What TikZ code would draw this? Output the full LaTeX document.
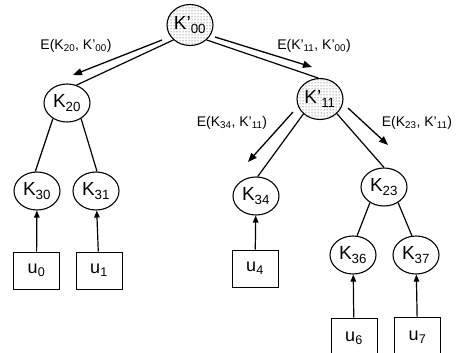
\documentclass[tikz,border=0pt]{standalone}
\usepackage{fontspec}
\setmainfont{Liberation Sans}
\usetikzlibrary{arrows.meta,patterns,shapes.geometric}

\begin{document}
\begin{tikzpicture}[x=1pt,y=-1pt,
  key/.style={ellipse, draw, line width=1.1pt, minimum width=46pt, minimum height=38pt,
    inner sep=0pt, font=\fontsize{19}{20}\selectfont},
  rekey/.style={key, minimum height=41pt, pattern=dots, pattern color=black!80},
  user/.style={rectangle, draw, line width=1pt, minimum width=46pt, minimum height=37pt,
    inner sep=0pt, font=\fontsize{18}{20}\selectfont},
  tree/.style={line width=1.2pt},
  enc/.style={line width=1.3pt, -{Triangle[length=9pt,width=7pt]}},
  upd/.style={line width=1.2pt, -{Triangle[length=7pt,width=5.5pt]}},
  lab/.style={font=\fontsize{14}{15}\selectfont, inner sep=0pt}]

\useasboundingbox (0,0) rectangle (463,353);
\clip (0,0) rectangle (463,353);

% key tree
\node[rekey] (k00) at (190,25)  {K'\textsubscript{00}};
\node[key]   (k20) at (67,103)  {K\textsubscript{20}};
\node[rekey] (k11) at (320,99)  {K'\textsubscript{11}};
\node[key]   (k30) at (37,191)  {K\textsubscript{30}};
\node[key]   (k31) at (96,191)  {K\textsubscript{31}};
\node[key]   (k34) at (256,196) {K\textsubscript{34}};
\node[key]   (k23) at (384,187) {K\textsubscript{23}};
\node[key]   (k36) at (353,255) {K\textsubscript{36}};
\node[key]   (k37) at (416,255) {K\textsubscript{37}};

% users
\node[user] (u0) at (36.5,270.5) {u\textsubscript{0}};
\node[user] (u1) at (99,270.5)   {u\textsubscript{1}};
\node[user] (u4) at (255,268.5)  {u\textsubscript{4}};
\node[user, minimum height=40pt] (u6) at (354,338) {u\textsubscript{6}};
\node[user, minimum height=40pt] (u7) at (417.5,337.5) {u\textsubscript{7}};

% tree edges
\draw[tree] (k00.222) -- (k20.62);
\draw[tree] (k00.318) -- (k11.95);
\draw[tree] (k11.222) -- (k34.85);
\draw[tree] (k11.319) -- (k23.90);
\draw[tree] (k20.228) -- (k30.95);
\draw[tree] (k20.312) -- (k31.87);
\draw[tree] (k23.228) -- (k36.78);
\draw[tree] (k23.312) -- (k37.102);

% users to their leaf keys
\draw[upd] (u0) -- (k30);
\draw[upd] (u1) -- (k31);
\draw[upd] (u4) -- (k34);
\draw[upd] (u6) -- (k36);
\draw[upd] (u7) -- (k37);

% rekey messages
\coordinate (a1s) at (162,40);  \coordinate (a1e) at (73,75);
\coordinate (a2s) at (215,37);  \coordinate (a2e) at (312,67);
\coordinate (a3s) at (293,112); \coordinate (a3e) at (248,162);
\coordinate (a4s) at (348,108); \coordinate (a4e) at (388,145);
\draw[enc] (a1s) -- (a1e);
\draw[enc] (a2s) -- (a2e);
\draw[enc] (a3s) -- (a3e);
\draw[enc] (a4s) -- (a4e);

\node[lab] (l1) at (76,46)   {E(K\textsubscript{20}, K'\textsubscript{00})};
\node[lab] (l2) at (314,46)  {E(K'\textsubscript{11}, K'\textsubscript{00})};
\node[lab] (l3) at (232,123) {E(K\textsubscript{34}, K'\textsubscript{11})};
\node[lab] (l4) at (417,123) {E(K\textsubscript{23}, K'\textsubscript{11})};
\end{tikzpicture}
\end{document}
